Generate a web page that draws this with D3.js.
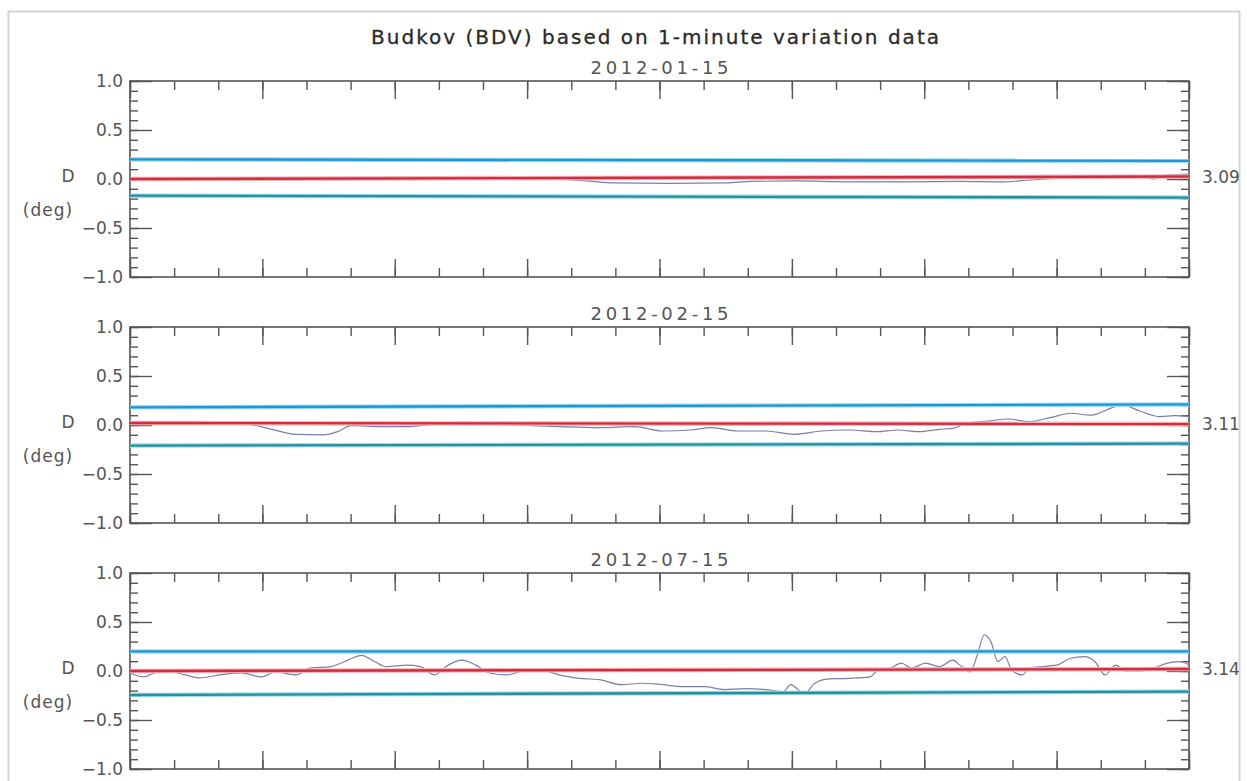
<!DOCTYPE html>
<html>
<head>
<meta charset="utf-8">
<script src="https://cdn.jsdelivr.net/npm/d3@7"></script>
<style>
  body { margin: 0; background: #fff; }
  .container { width: 1247px; height: 781px; overflow: hidden; }
  text { font-family: 'DejaVu Sans', sans-serif; }
</style>
</head>
<body>
<div class="container"></div>
<script>
// hours of day (UT) and declination variation D (deg)
let titleText = 'Budkov (BDV) based on 1-minute variation data';
let dates = ['2012-01-15', '2012-02-15', '2012-07-15'];
let baseValues = ['3.09', '3.11', '3.14'];

let hoursJan = [0, 4.7, 9.4, 10.34, 10.97, 12.2, 13.5, 14.1, 15.05, 16.3, 17.55, 18.8, 19.75, 20.4, 21.3, 22.26, 22.9, 23.2, 23.5, 24];
let valuesJan = [0.0, 0.005, 0.0, -0.02, -0.04, -0.045, -0.04, -0.025, -0.02, -0.03, -0.03, -0.025, -0.03, -0.01, 0.01, 0.02, 0.03, 0.0, 0.04, 0.05];

let hoursFeb = [0, 2.51, 3.13, 3.76, 4.39, 4.7, 5.02, 5.64, 6.27, 6.58, 7.52, 8.15, 9.09, 9.72, 10.66, 11.44, 12.07, 12.7, 13.17, 13.79, 14.42, 15.05, 15.67, 16.3, 16.93, 17.4, 17.87, 18.34, 18.65, 18.97, 19.44, 19.91, 20.38, 20.85, 21.32, 21.79, 22.26, 22.49, 22.88, 23.35, 23.67, 24];
let valuesFeb = [0.017, 0.017, -0.034, -0.095, -0.1, -0.068, -0.007, -0.017, -0.017, -0.007, 0.027, 0.017, -0.007, -0.017, -0.027, -0.017, -0.061, -0.051, -0.027, -0.061, -0.061, -0.095, -0.061, -0.051, -0.068, -0.051, -0.068, -0.044, -0.034, 0.017, 0.04, 0.061, 0.034, 0.075, 0.12, 0.1, 0.177, 0.204, 0.143, 0.085, 0.095, 0.085];

let hoursJul = [0, 0.31, 0.63, 0.94, 1.25, 1.57, 2.04, 2.51, 2.98, 3.29, 3.76, 4.08, 4.55, 4.86, 5.25, 5.49, 5.8, 6.27, 6.58, 6.9, 7.21, 7.52, 7.84, 8.15, 8.54, 8.93, 9.4, 9.72, 10.19, 10.66, 11.13, 11.6, 12.07, 12.54, 13.01, 13.48, 13.95, 14.42, 14.81, 14.97, 15.28, 15.52, 15.83, 16.3, 16.77, 16.93, 17.24, 17.48, 17.71, 18.03, 18.34, 18.65, 18.81, 19.04, 19.2, 19.36, 19.51, 19.67, 19.83, 19.98, 20.22, 20.38, 20.69, 21.0, 21.32, 21.63, 21.87, 22.1, 22.34, 22.57, 22.88, 23.2, 23.51, 23.82, 24];
let valuesJul = [-0.02, -0.06, -0.01, -0.01, -0.04, -0.07, -0.04, -0.02, -0.06, -0.01, -0.04, 0.03, 0.045, 0.095, 0.16, 0.11, 0.045, 0.06, 0.045, -0.04, 0.06, 0.11, 0.06, -0.02, -0.04, 0.0, 0.0, -0.04, -0.075, -0.09, -0.14, -0.125, -0.14, -0.16, -0.16, -0.19, -0.18, -0.19, -0.21, -0.14, -0.23, -0.125, -0.08, -0.075, -0.06, 0.0, 0.03, 0.08, 0.03, 0.08, 0.045, 0.11, 0.06, -0.01, 0.16, 0.37, 0.3, 0.095, 0.146, 0.01, -0.04, 0.03, 0.045, 0.06, 0.13, 0.146, 0.095, -0.04, 0.06, 0.0, 0.0, 0.03, 0.08, 0.095, 0.06];

// straight reference lines [start, end] for each day
let upperLines = [[0.2, 0.185], [0.18, 0.21], [0.2, 0.2]];
let baseLines = [[0.0, 0.025], [0.02, 0.01], [0.0, 0.02]];
let lowerLines = [[-0.17, -0.19], [-0.21, -0.19], [-0.245, -0.21]];

let xMajorTicks = [0, 3, 6, 9, 12, 15, 18, 21, 24];
let yMajorTicks = [-1, -0.5, 0, 0.5, 1];

let series = [
  { hours: hoursJan, values: valuesJan },
  { hours: hoursFeb, values: valuesFeb },
  { hours: hoursJul, values: valuesJul },
];

let margin = { left: 130, right: 58 };
let width = 1247 - margin.left - margin.right;
let panelHeight = 196;
let panelTops = [81, 327, 573];

let svg = d3
  .select('.container')
  .append('svg')
  .attr('width', 1247)
  .attr('height', 781);

// light outer frame
svg
  .append('rect')
  .attr('x', 8.5)
  .attr('y', 11.5)
  .attr('width', 1231)
  .attr('height', 820)
  .attr('fill', 'none')
  .attr('stroke', '#d4d4d4')
  .attr('stroke-width', 2);

svg
  .append('text')
  .attr('x', 655)
  .attr('y', 44)
  .attr('text-anchor', 'middle')
  .attr('textLength', 568)
  .attr('lengthAdjust', 'spacing')
  .style('font-size', '20px')
  .style('fill', '#2a2a2a')
  .style('stroke', '#2a2a2a')
  .style('stroke-width', 0.3)
  .text(titleText);

let x = d3.scaleLinear().domain([0, 24]).range([0, width]);
let y = d3.scaleLinear().domain([-1, 1]).range([panelHeight, 0]);

let xMinor = d3.range(0, 25, 1);
let yMinor = d3.range(-10, 11).map((d) => d / 10);

let line = d3
  .line()
  .x((d) => x(d[0]))
  .y((d) => y(d[1]))
  .curve(d3.curveMonotoneX);

function styleAxis(g) {
  g.select('.domain').remove();
  g.selectAll('line').attr('stroke', '#555').attr('stroke-width', 1.4);
  g.selectAll('text')
    .style('font-size', '17px')
    .style('fill', '#555')
    .style('font-family', "'DejaVu Sans', sans-serif");
}

series.forEach((s, i) => {
  let panel = svg
    .append('g')
    .attr('transform', 'translate(' + margin.left + ',' + panelTops[i] + ')');

  panel
    .append('text')
    .attr('x', width / 2)
    .attr('y', -7)
    .attr('text-anchor', 'middle')
    .attr('textLength', 138)
    .attr('lengthAdjust', 'spacing')
    .style('font-size', '18px')
    .style('fill', '#555')
    .text(dates[i]);

  // minor ticks
  panel.append('g').call(d3.axisTop(x).tickValues(xMinor).tickSize(-9).tickFormat('')).call(styleAxis);
  panel
    .append('g')
    .attr('transform', 'translate(0,' + panelHeight + ')')
    .call(d3.axisBottom(x).tickValues(xMinor).tickSize(-9).tickFormat(''))
    .call(styleAxis);
  panel.append('g').call(d3.axisLeft(y).tickValues(yMinor).tickSize(-8).tickFormat('')).call(styleAxis);
  panel
    .append('g')
    .attr('transform', 'translate(' + width + ',0)')
    .call(d3.axisRight(y).tickValues(yMinor).tickSize(-8).tickFormat(''))
    .call(styleAxis);

  // major ticks
  panel.append('g').call(d3.axisTop(x).tickValues(xMajorTicks).tickSize(-18).tickFormat('')).call(styleAxis);
  panel
    .append('g')
    .attr('transform', 'translate(0,' + panelHeight + ')')
    .call(d3.axisBottom(x).tickValues(xMajorTicks).tickSize(-18).tickFormat(''))
    .call(styleAxis);
  panel
    .append('g')
    .call(d3.axisLeft(y).tickValues(yMajorTicks).tickSize(-22).tickPadding(7).tickFormat(d3.format('.1f')))
    .call(styleAxis);
  panel
    .append('g')
    .attr('transform', 'translate(' + width + ',0)')
    .call(d3.axisRight(y).tickValues(yMajorTicks).tickSize(-22).tickFormat(''))
    .call(styleAxis);

  panel
    .append('rect')
    .attr('width', width)
    .attr('height', panelHeight)
    .attr('fill', 'none')
    .attr('stroke', '#555')
    .attr('stroke-width', 1.6);

  panel
    .append('text')
    .attr('x', -62)
    .attr('y', y(0) + 3)
    .attr('text-anchor', 'middle')
    .style('font-size', '17px')
    .style('fill', '#555')
    .text('D');

  panel
    .append('text')
    .attr('x', -82)
    .attr('y', y(-0.35) + 3)
    .attr('text-anchor', 'middle')
    .style('font-size', '17px')
    .style('fill', '#555')
    .style('letter-spacing', '1px')
    .text('(deg)');

  panel
    .append('text')
    .attr('x', width + 13)
    .attr('y', y(baseLines[i][1]) + 6)
    .style('font-size', '17px')
    .style('fill', '#555')
    .text(baseValues[i]);

  // observed trace
  panel
    .append('path')
    .datum(s.hours.map((h, j) => [h, s.values[j]]))
    .attr('fill', 'none')
    .attr('stroke', '#7a7fa8')
    .attr('stroke-width', 1.2)
    .attr('d', line);

  let refs = [
    { v: upperLines[i], halo: '#9fdcf0', color: '#1f97d4' },
    { v: lowerLines[i], halo: '#9fdcf0', color: '#2a8f9a' },
    { v: baseLines[i], halo: '#f3b0b8', color: '#d42c3c' },
  ];

  refs.forEach((r) => {
    let pts = [[0, r.v[0]], [24, r.v[1]]];
    panel
      .append('path')
      .datum(pts)
      .attr('fill', 'none')
      .attr('stroke', r.halo)
      .attr('stroke-width', 4.5)
      .attr('d', d3.line().x((d) => x(d[0])).y((d) => y(d[1])));
    panel
      .append('path')
      .datum(pts)
      .attr('fill', 'none')
      .attr('stroke', r.color)
      .attr('stroke-width', 2.4)
      .attr('d', d3.line().x((d) => x(d[0])).y((d) => y(d[1])));
  });
});
</script>
</body>
</html>
